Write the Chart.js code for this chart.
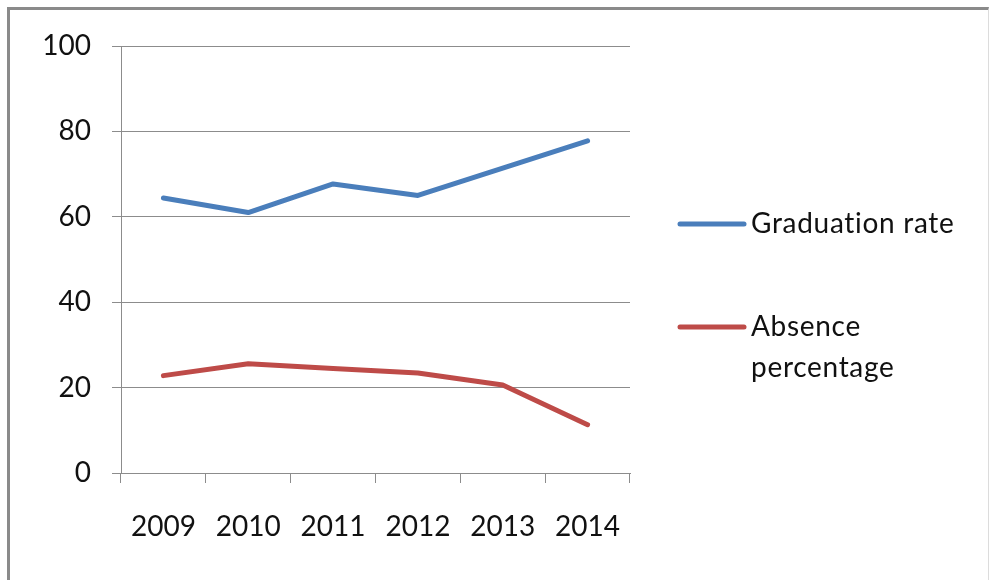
<!DOCTYPE html>
<html>
<head>
<meta charset="utf-8">
<script src="https://cdn.jsdelivr.net/npm/chart.js@4.4.0/dist/chart.umd.min.js"></script>
<style>
  html, body { margin: 0; padding: 0; background: #fff; overflow: hidden; }
  #frame {
    position: absolute; left: 7px; top: 7px; width: 978px; height: 600px;
    border-left: 3px solid #8a8a8a; border-top: 3px solid #8a8a8a; border-right: 1px solid #dcdcdc;
  }
  #wrap { position: absolute; left: 0; top: 0; width: 989px; height: 580px; }
</style>
</head>
<body>
<div id="frame"></div>
<div id="wrap"><canvas id="chart"></canvas></div>
<script>
var years = ['2009', '2010', '2011', '2012', '2013', '2014'];
var graduationRate = [64.4, 61.0, 67.7, 65.0, 71.4, 77.8];
var absencePercentage = [22.8, 25.6, 24.5, 23.4, 20.6, 11.3];
var seriesNames = ['Graduation rate', ['Absence', 'percentage']];
var yTicks = [0, 20, 40, 60, 80, 100];

var FONT = 'Lato, "Open Sans", sans-serif';
var gridGray = '#8c8c8c';

// legend drawn by hand so the second label can wrap onto two lines
var sideLegend = {
  id: 'sideLegend',
  afterDraw: function(chart) {
    var ctx = chart.ctx;
    var rows = [224, 327];
    ctx.save();
    chart.data.datasets.forEach(function(ds, i) {
      var y = rows[i];
      ctx.strokeStyle = ds.borderColor;
      ctx.lineWidth = 5;
      ctx.lineCap = 'round';
      ctx.beginPath();
      ctx.moveTo(680, y);
      ctx.lineTo(744, y);
      ctx.stroke();
      ctx.fillStyle = '#111';
      ctx.font = '28px ' + FONT;
      // non-zero spacing also stops Lato's "ti" ligature
      ctx.letterSpacing = '0.7px';
      ctx.textBaseline = 'middle';
      ctx.textAlign = 'left';
      var lines = [].concat(seriesNames[i]);
      lines.forEach(function(t, j) {
        ctx.fillText(t, 751, y + j * 41);
      });
    });
    ctx.restore();
  }
};

var data = {
  labels: years,
  datasets: [
    {
      label: 'Graduation rate',
      data: graduationRate,
      borderColor: '#4a7ebb',
      borderWidth: 5,
      borderCapStyle: 'round',
      borderJoinStyle: 'round',
      pointRadius: 0,
      tension: 0,
      fill: false
    },
    {
      label: 'Absence percentage',
      data: absencePercentage,
      borderColor: '#be4b48',
      borderWidth: 5,
      borderCapStyle: 'round',
      borderJoinStyle: 'round',
      pointRadius: 0,
      tension: 0,
      fill: false
    }
  ]
};

new Chart(document.getElementById('chart'), {
  type: 'line',
  data: data,
  plugins: [sideLegend],
  options: {
    responsive: true,
    maintainAspectRatio: false,
    animation: false,
    layout: { padding: { left: 0, top: 46, right: 359, bottom: 0 } },
    plugins: {
      legend: { display: false },
      tooltip: { enabled: false }
    },
    scales: {
      x: {
        offset: true,
        afterFit: function(s) { s.height = 107; },
        grid: { offset: true, drawOnChartArea: false, drawTicks: true, tickLength: 10, color: gridGray, lineWidth: 1 },
        border: { display: true, color: gridGray, width: 1 },
        ticks: { padding: 27, color: '#111', font: { family: FONT, size: 28 }, maxRotation: 0 }
      },
      y: {
        min: 0,
        max: 100,
        afterFit: function(s) { s.width = 121; },
        afterBuildTicks: function(s) { s.ticks = yTicks.map(function(v) { return { value: v }; }); },
        grid: { drawOnChartArea: true, drawTicks: true, tickLength: 9, color: gridGray, lineWidth: 1 },
        border: { display: true, color: gridGray, width: 1 },
        ticks: { padding: 21, color: '#111', font: { family: FONT, size: 28 } }
      }
    }
  }
});
</script>
</body>
</html>
